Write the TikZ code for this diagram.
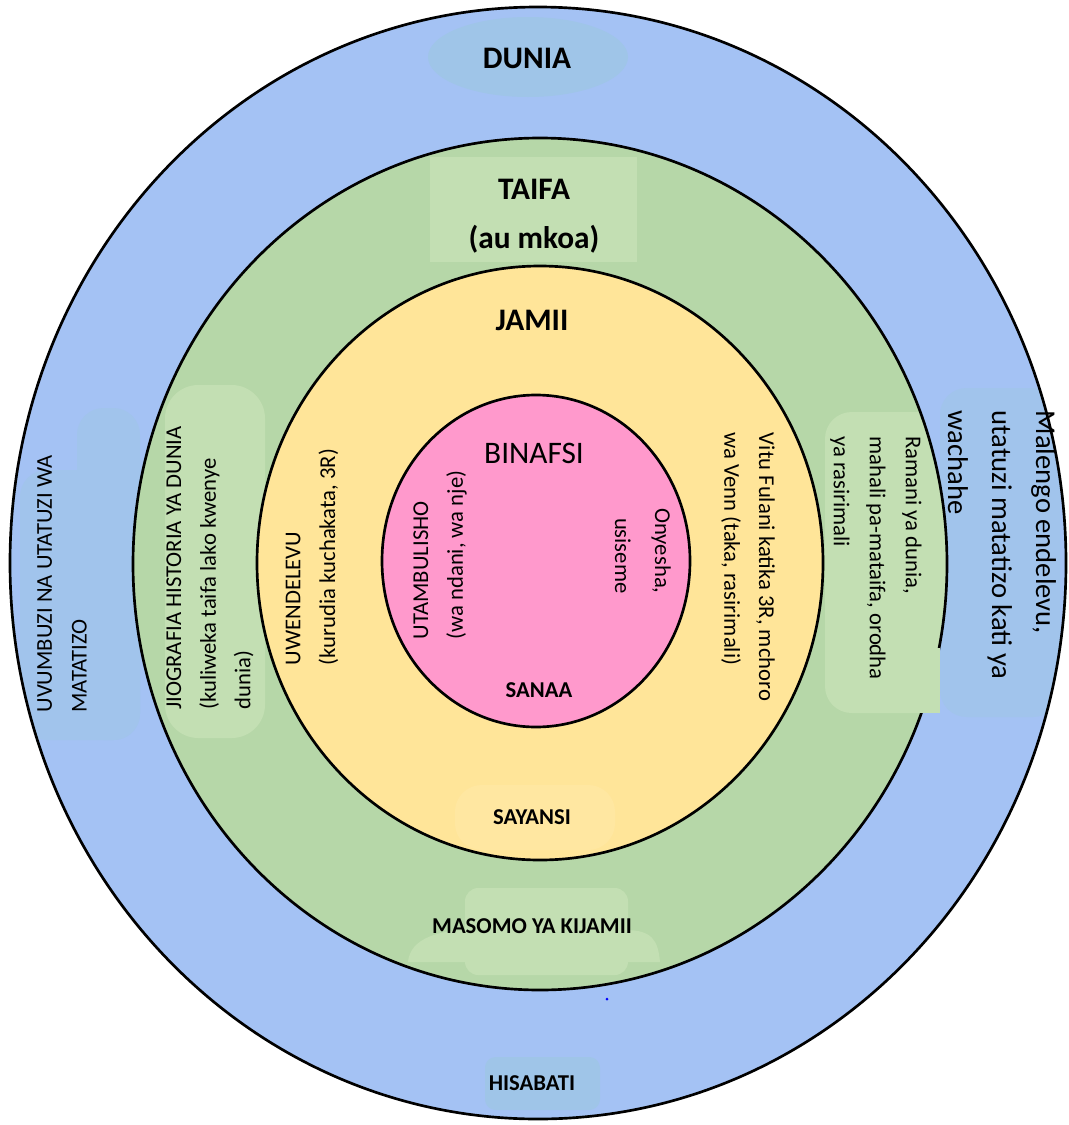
\documentclass[tikz,border=0pt]{standalone}
\usepackage{fontspec}
\setmainfont{Carlito}
\definecolor{duniablue}{HTML}{A4C2F4}
\definecolor{duniapatch}{HTML}{9FC5E8}
\definecolor{sidepatch}{HTML}{A1C4EC}
\definecolor{taifagreen}{HTML}{B6D7A8}
\definecolor{taifapatch}{HTML}{C3DFB3}
\definecolor{jamiiyellow}{HTML}{FFE599}
\definecolor{jamiipatch}{HTML}{FFE7A1}
\definecolor{binafsipink}{HTML}{FF99CC}
\begin{document}
\begin{tikzpicture}[x=0.75pt,y=-0.75pt,
	ring/.style={draw=black,line width=2pt},
	head/.style={font=\bfseries\fontsize{23.5}{37}\selectfont,inner sep=0pt,align=center},
	subj/.style={font=\bfseries\fontsize{17}{26}\selectfont,inner sep=0pt},
	side/.style={font=\fontsize{17}{26}\selectfont,inner sep=0pt,align=left},
	upside/.style={side,rotate=90},
	downside/.style={side,rotate=-90}]
	\useasboundingbox (0,0) rectangle (1069,1125);
	\fill[duniablue] (538,563) ellipse [x radius=528, y radius=556];
	\begin{scope}
	\clip (538,563) ellipse [x radius=528, y radius=556];
	\fill[duniapatch] (528,57) ellipse [x radius=100, y radius=40];
	\fill[duniapatch,rounded corners=8pt] (485,1057) rectangle (600,1110);
	\fill[sidepatch,rounded corners=20pt] (77,408) rectangle (140,740);
	\fill[sidepatch,rounded corners=20pt] (20,470) rectangle (140,740);
	\fill[sidepatch,rounded corners=20pt] (940,388) rectangle (1060,717);
	\end{scope}
	\fill[taifagreen] (540,564) ellipse [x radius=407, y radius=426];
	\begin{scope}
	\clip (540,564) ellipse [x radius=407, y radius=426];
	\fill[taifapatch] (430,157) rectangle (637,262);
	\fill[taifapatch,rounded corners=25pt] (165,385) rectangle (265,738);
	\fill[taifapatch,rounded corners=20pt] (825,412) rectangle (960,713);
	\fill[taifapatch,rounded corners=10pt] (465,888) rectangle (628,975);
	\fill[taifapatch] (408,962) .. controls (410,938) and (440,930) .. (470,930) -- (625,930) .. controls (652,930) and (658,940) .. (660,962) -- cycle;
	\end{scope}
	\fill[jamiiyellow] (540,563) ellipse [x radius=283, y radius=297];
	\fill[jamiipatch,rounded corners=20pt] (455,785) rectangle (615,850);
	\fill[binafsipink] (536,561) ellipse [x radius=154, y radius=166];
	\draw[ring] (538,563) ellipse [x radius=528, y radius=556];
	\draw[ring] (540,564) ellipse [x radius=407, y radius=426];
	\draw[ring] (540,563) ellipse [x radius=283, y radius=297];
	\draw[ring] (536,561) ellipse [x radius=154, y radius=166];
	\fill[taifapatch] (880,648) rectangle (940,713);
	\fill[blue] (607,999) circle [radius=1.5];
	\node[head] (dunia) at (527,58) {DUNIA};
	\node[head] (taifa) at (534,216) {TAIFA\\(au mkoa)};
	\node[head] (jamii) at (532,320) {JAMII};
	\node[font=\fontsize{23.5}{28}\selectfont,inner sep=0pt] (binafsi) at (534,453) {BINAFSI};
	\node[subj] (sanaa) at (539,690) {SANAA};
	\node[subj] (sayansi) at (532,817) {SAYANSI};
	\node[subj] (masomo) at (532,926) {MASOMO YA KIJAMII};
	\node[subj] (hisabati) at (532,1083) {HISABATI};
	\node[upside] (uvumbuzi) at (62,584) {UVUMBUZI NA UTATUZI WA\\MATATIZO};
	\node[upside] (jiografia) at (210,568) {JIOGRAFIA HISTORIA YA DUNIA\\(kuliweka taifa lako kwenye\\dunia)};
	\node[upside] (uwendelevu) at (312,557) {UWENDELEVU\\(kurudia kuchakata, 3R)};
	\node[upside] (utambulisho) at (440,555) {UTAMBULISHO\\(wa ndani, wa nje)};
	\node[downside,align=right,font=\fontsize{17}{30}\selectfont] (onyesha) at (643,551) {Onyesha,\\usiseme};
	\node[downside] (vitu) at (748,567) {Vitu Fulani katika 3R, mchoro\\wa Venn (taka, rasirimali)};
	\node[downside,font=\fontsize{17}{27}\selectfont] (ramani) at (876,558) {Ramani ya dunia,\\mahali pa-mataifa, orodha\\ya rasirimali};
	\node[downside,font=\fontsize{21.5}{33}\selectfont] (malengo) at (1002,545) {Malengo endelevu,\\utatuzi matatizo kati ya\\wachahe};
\end{tikzpicture}
\end{document}
